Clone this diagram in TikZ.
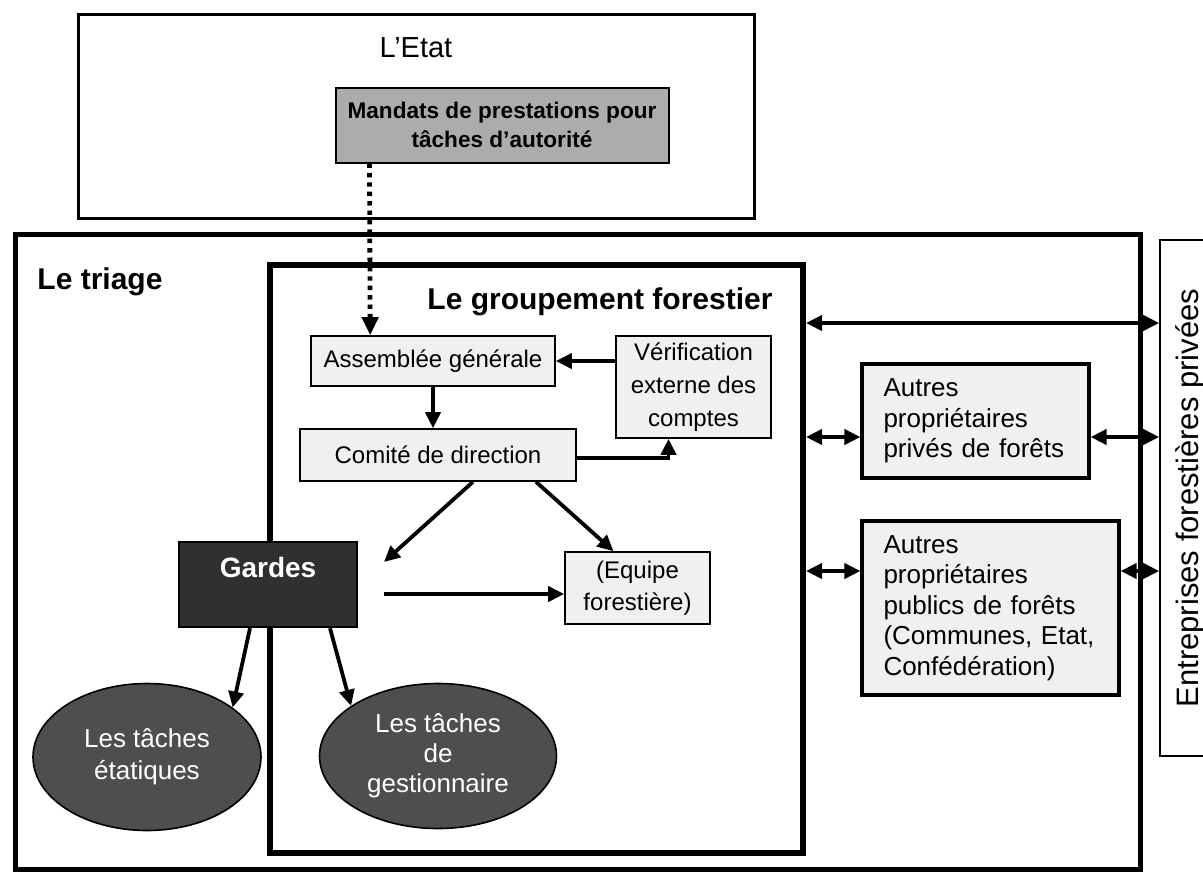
\documentclass[tikz,border=0pt]{standalone}
\usepackage{fontspec}
\setmainfont{Liberation Sans}
\usetikzlibrary{arrows.meta,shapes.geometric,positioning}
\definecolor{lightbox}{RGB}{240,240,240}
\definecolor{midgray}{RGB}{172,172,172}
\definecolor{darkell}{RGB}{78,78,78}
\definecolor{darkbox}{RGB}{48,48,48}
\newcommand{\setfs}[2]{\fontsize{#1}{#2}\selectfont}

\begin{document}
\begin{tikzpicture}[
    x=0.5pt, y=-0.5pt,
    >={Triangle[length=8pt,width=7.5pt]},
    frame/.style={
        draw, line width=#1, inner sep=0pt
    },
    inbox/.style={
        draw, line width=0.8pt, fill=lightbox, align=center,
        inner sep=0pt, font=\setfs{12}{16.5}
    },
    owner/.style={
        draw, line width=1.6pt, fill=lightbox, align=left,
        inner ysep=0pt, inner xsep=10.75pt, font=\setfs{13}{15.2}
    },
    task/.style={
        ellipse, draw, line width=0.8pt, fill=darkell, text=white,
        align=center, inner sep=0pt, font=\setfs{13}{16}
    },
    title/.style={
        font=\bfseries\setfs{15}{18}
    },
    flow/.style={
        ->, line width=1.9pt
    },
    both/.style={
        <->, line width=1.9pt
    },
    dots/.style={
        -{Triangle[length=9pt,width=8pt]}, line width=2.4pt,
        dash pattern=on 2.2pt off 2.5pt
    }
]
    \useasboundingbox (0,0) rectangle (1203,873);

    % l'Etat
    \node (etat) [frame=1.5pt, minimum width=338pt, minimum height=102pt]
        at (416,116) {};
    \node (etattitle) [font=\setfs{14.5}{16}] at (416,48) {L’Etat};
    \node (mandats) [frame=1pt, fill=midgray, minimum width=166.5pt,
        minimum height=37.5pt, align=center,
        font=\bfseries\setfs{11.3}{14.5}] at (502,125)
        {Mandats de prestations pour\\tâches d’autorité};

    % le triage et le groupement
    \node (triage) [frame=2.5pt, minimum width=562.5pt, minimum height=317.5pt]
        at (577.5,551.5) {};
    \node (triagetitle) [title] at (100,282) {Le triage};
    \node (grp) [frame=3pt, minimum width=266.5pt, minimum height=294pt]
        at (536.5,559) {};
    \node (grptitle) [title] at (600,302) {Le groupement forestier};

    \node (assemblee) [inbox, minimum width=122pt, minimum height=25pt]
        at (433,361) {Assemblée générale};
    \node (verif) [inbox, minimum width=77.5pt, minimum height=51pt]
        at (693.5,387) {Vérification\\externe des\\comptes};
    \node (comite) [inbox, minimum width=138pt, minimum height=26pt]
        at (438,455) {Comité de direction};
    \node (equipe) [inbox, minimum width=72.5pt, minimum height=36pt,
        font=\setfs{12}{16}] at (637.5,588) {(Equipe\\forestière)};

    \node (gardes) [frame=1.2pt, fill=darkbox, minimum width=89pt,
        minimum height=42.5pt] at (268,584.5) {};
    \node (gardestitle) [text=white, font=\bfseries\setfs{14}{16}]
        at (268,567) {Gardes};

    \node (etatiques) [task, minimum width=114pt, minimum height=73.5pt]
        at (147,757) {Les tâches\\étatiques};
    \node (gestion) [task, minimum width=118.5pt, minimum height=72.5pt,
        font=\setfs{13}{15}] at (438,756) {Les tâches\\de\\gestionnaire};

    % autres acteurs
    \node (prives) [owner, text width=92pt, minimum height=57pt]
        at (975.5,421) {Autres\\propriétaires\\privés de forêts};
    \node (publics) [owner, text width=107pt, minimum height=87pt]
        at (990.5,608) {Autres\\propriétaires\\publics de forêts\\(Communes, Etat,\\Confédération)};
    \node (entreprises) [frame=0.8pt, rotate=90, minimum width=258pt,
        minimum height=30pt, font=\setfs{15.5}{18}] at (1190,498)
        {Entreprises forestières privées};

    % fleches
    \draw[dots] ([xshift=17.5pt]mandats.south west)
        -- ([xshift=30pt]assemblee.north west);
    \draw[flow] (verif.west |- assemblee.east) -- (assemblee.east);
    \draw[flow] (assemblee.south) -- (assemblee.south |- comite.north);
    \draw[flow] ([yshift=-1.5pt]comite.east) -| ([xshift=-12.5pt]verif.south);

    \coordinate (gardesne) at (384,562);
    \coordinate (gardese) at (384,594);
    \draw[flow] ([xshift=17.5pt]comite.south) -- (gardesne);
    \draw[flow] ([xshift=49pt]comite.south) -- ([xshift=-12pt]equipe.north);
    \draw[flow] (gardese) -- (gardese -| equipe.west);
    \draw[flow] ([xshift=-9pt]gardes.south) -- (etatiques.30);
    \draw[flow] ([xshift=31pt]gardes.south) -- (gestion.150);

    \draw[both] ([yshift=118pt]grp.east)
        -- ([yshift=118pt]grp.east -| entreprises.north);
    \draw[both] ([yshift=-8pt]prives.west)
        -- ([yshift=-8pt]prives.west -| grp.east);
    \draw[both] ([yshift=-8pt]prives.east)
        -- ([yshift=-8pt]prives.east -| entreprises.north);
    \draw[both] ([yshift=18.5pt]publics.west)
        -- ([yshift=18.5pt]publics.west -| grp.east);
    \draw[both] ([yshift=18.5pt]publics.east)
        -- ([yshift=18.5pt]publics.east -| entreprises.north);

\end{tikzpicture}
\end{document}
